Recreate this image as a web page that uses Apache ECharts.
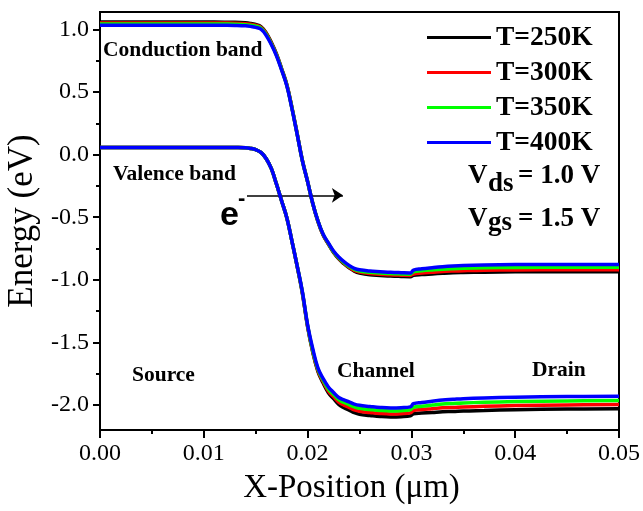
<!DOCTYPE html>
<html>
<head>
<meta charset="utf-8">
<script src="https://cdn.jsdelivr.net/npm/echarts@6/dist/echarts.min.js"></script>
<style>
  html, body { margin: 0; padding: 0; background: #fff; }
  #chart { width: 643px; height: 511px; }
</style>
</head>
<body>
<div id="chart"></div>
<script>
// Position along the device (µm)
const xPos = [0, 0.005, 0.010, 0.012, 0.013, 0.014, 0.0145, 0.015, 0.0155, 0.016, 0.0165,
  0.017, 0.0175, 0.018, 0.0185, 0.019, 0.0195, 0.020, 0.0205, 0.021, 0.0215,
  0.022, 0.0225, 0.023, 0.0235, 0.024, 0.0245, 0.025, 0.026, 0.027, 0.028,
  0.029, 0.0299, 0.0302, 0.031, 0.032, 0.033, 0.034, 0.035, 0.037, 0.040,
  0.045, 0.050];

const temps = ['T=250K', 'T=300K', 'T=350K', 'T=400K'];
const colors = ['#000000', '#ff0000', '#00ff00', '#0000ff'];

// Conduction band edge (eV)
const cb250 = [1.060, 1.060, 1.060, 1.059, 1.058, 1.054, 1.049, 1.040, 1.024, 0.975, 0.898,
  0.805, 0.687, 0.560, 0.373, 0.165, -0.047, -0.215, -0.392, -0.535, -0.643,
  -0.715, -0.782, -0.833, -0.872, -0.905, -0.930, -0.945, -0.960, -0.965, -0.970,
  -0.973, -0.975, -0.964, -0.958, -0.953, -0.948, -0.944, -0.942, -0.939, -0.936,
  -0.935, -0.935];
const cb300 = [1.053, 1.053, 1.053, 1.052, 1.051, 1.047, 1.042, 1.034, 1.018, 0.969, 0.893,
  0.800, 0.683, 0.557, 0.371, 0.164, -0.048, -0.215, -0.391, -0.533, -0.641,
  -0.712, -0.778, -0.828, -0.867, -0.899, -0.924, -0.938, -0.950, -0.955, -0.960,
  -0.963, -0.965, -0.953, -0.946, -0.940, -0.934, -0.930, -0.927, -0.923, -0.921,
  -0.920, -0.920];
const cb350 = [1.045, 1.045, 1.045, 1.044, 1.043, 1.039, 1.034, 1.027, 1.012, 0.963, 0.887,
  0.796, 0.680, 0.554, 0.368, 0.162, -0.049, -0.215, -0.390, -0.531, -0.638,
  -0.709, -0.775, -0.824, -0.862, -0.893, -0.917, -0.929, -0.940, -0.945, -0.950,
  -0.953, -0.955, -0.936, -0.928, -0.921, -0.915, -0.911, -0.908, -0.904, -0.901,
  -0.900, -0.900];
const cb400 = [1.035, 1.035, 1.035, 1.034, 1.033, 1.030, 1.025, 1.017, 1.003, 0.955, 0.880,
  0.790, 0.675, 0.550, 0.365, 0.160, -0.050, -0.215, -0.390, -0.530, -0.636,
  -0.705, -0.770, -0.818, -0.855, -0.885, -0.908, -0.920, -0.930, -0.935, -0.940,
  -0.943, -0.945, -0.922, -0.912, -0.903, -0.895, -0.889, -0.885, -0.881, -0.878,
  -0.877, -0.877];

// Valence band edge (eV)
const vb250 = [0.058, 0.058, 0.058, 0.058, 0.057, 0.055, 0.050, 0.040, 0.018, -0.030, -0.110,
  -0.235, -0.370, -0.505, -0.695, -0.895, -1.110, -1.375, -1.580, -1.734, -1.825,
  -1.902, -1.950, -1.996, -2.022, -2.041, -2.062, -2.075, -2.084, -2.092, -2.096,
  -2.094, -2.087, -2.070, -2.065, -2.060, -2.054, -2.052, -2.048, -2.044, -2.038,
  -2.033, -2.030];
const vb300 = [0.058, 0.058, 0.058, 0.058, 0.057, 0.055, 0.050, 0.040, 0.018, -0.030, -0.110,
  -0.235, -0.370, -0.505, -0.695, -0.893, -1.103, -1.370, -1.573, -1.725, -1.813,
  -1.888, -1.933, -1.977, -2.001, -2.019, -2.040, -2.051, -2.060, -2.068, -2.072,
  -2.070, -2.063, -2.044, -2.037, -2.030, -2.023, -2.020, -2.016, -2.011, -2.005,
  -2.000, -1.997];
const vb350 = [0.058, 0.058, 0.058, 0.058, 0.057, 0.055, 0.050, 0.040, 0.018, -0.030, -0.110,
  -0.235, -0.370, -0.505, -0.695, -0.891, -1.099, -1.365, -1.567, -1.715, -1.802,
  -1.874, -1.916, -1.958, -1.980, -1.997, -2.016, -2.027, -2.036, -2.044, -2.048,
  -2.046, -2.039, -2.018, -2.010, -2.001, -1.992, -1.988, -1.984, -1.979, -1.973,
  -1.968, -1.965];
const vb400 = [0.058, 0.058, 0.058, 0.058, 0.057, 0.055, 0.050, 0.040, 0.018, -0.030, -0.110,
  -0.235, -0.370, -0.505, -0.695, -0.890, -1.096, -1.360, -1.551, -1.706, -1.790,
  -1.856, -1.900, -1.940, -1.960, -1.975, -1.993, -2.003, -2.012, -2.020, -2.024,
  -2.022, -2.015, -1.990, -1.980, -1.970, -1.960, -1.955, -1.950, -1.944, -1.938,
  -1.933, -1.930];

// Axis ticks
const yMajorTicks = [-2.0, -1.5, -1.0, -0.5, 0.0, 0.5, 1.0];
const yMinorTicks = [-1.75, -1.25, -0.75, -0.25, 0.25, 0.75];

// Electron-flow arrow (x in µm, energy in eV)
const arrowFrom = [0.01416, -0.325];
const arrowTo = [0.0234, -0.325];

const cbSets = [cb250, cb300, cb350, cb400];
const vbSets = [vb250, vb300, vb350, vb400];

const SERIF = '"Liberation Serif", "Times New Roman", serif';
const SANS = '"Liberation Sans", Arial, sans-serif';

const pair = arr => xPos.map((x, i) => [x, arr[i]]);

const series = [];
temps.forEach((name, k) => {
  [cbSets[k], vbSets[k]].forEach(set => {
    series.push({
      name: name,
      type: 'line',
      data: pair(set),
      showSymbol: false,
      symbol: 'none',
      smooth: 0.4,
      lineStyle: { color: colors[k], width: 3.5 },
      itemStyle: { color: colors[k] },
      emphasis: { disabled: true },
      z: 2 + k
    });
  });
});

// Arrow drawn in data coordinates on the top-most series
series[series.length - 1].markLine = {
  silent: true,
  symbol: ['none', 'arrow'],
  symbolSize: 11,
  label: { show: false },
  lineStyle: { color: '#000', width: 1.5, type: 'solid' },
  emphasis: { disabled: true },
  data: [[{ coord: arrowFrom }, { coord: arrowTo }]]
};

const chart = echarts.init(document.getElementById('chart'), null, { renderer: 'canvas' });

const txt = (text, x, y, font, align) => ({
  type: 'text', x: x, y: y, z: 100,
  style: { text: text, font: font, fill: '#000', align: align || 'left', verticalAlign: 'middle' }
});

const LBL = 'bold 21.5px ' + SERIF;
const VFONT = 'bold 27px ' + SERIF;

chart.setOption({
  animation: false,
  backgroundColor: '#fff',
  grid: {
    left: 100, right: 24, top: 12, bottom: 81,
    outerBoundsMode: 'none',
    containLabel: false,
    show: true, borderColor: '#000', borderWidth: 2, backgroundColor: 'transparent'
  },
  legend: {
    data: temps,
    orient: 'vertical',
    left: 427,
    top: 20,
    padding: 0,
    itemGap: 0,
    itemWidth: 64,
    itemHeight: 12,
    icon: 'path://M0,5 L64,5 L64,8 L0,8 Z',
    textStyle: { fontFamily: SERIF, fontWeight: 'bold', fontSize: 27.5, color: '#000', lineHeight: 35 },
    selectedMode: false
  },
  xAxis: {
    type: 'value',
    min: 0, max: 0.05, interval: 0.01,
    name: 'X-Position (\u03bcm)',
    nameLocation: 'middle',
    nameGap: 42,
    nameTextStyle: { fontFamily: SERIF, fontSize: 33, color: '#000', padding: [0, 16, 0, 0] },
    axisLine: { show: true, onZero: false, lineStyle: { color: '#000', width: 2 } },
    axisTick: { show: true, inside: false, length: 8, lineStyle: { color: '#000', width: 2 } },
    minorTick: { show: true, splitNumber: 2, length: 4, lineStyle: { color: '#000', width: 2 } },
    axisLabel: { fontFamily: SERIF, fontSize: 24, color: '#000', margin: 12, formatter: v => v.toFixed(2) },
    splitLine: { show: false }
  },
  yAxis: [{
    type: 'value',
    min: -2.2, max: 1.14,
    name: 'Energy (eV)',
    nameLocation: 'middle',
    nameGap: 56,
    nameTextStyle: { fontFamily: SERIF, fontSize: 35, color: '#000' },
    axisLine: { show: true, onZero: false, lineStyle: { color: '#000', width: 2 } },
    axisTick: { show: true, inside: false, length: 7, customValues: yMajorTicks, lineStyle: { color: '#000', width: 2 } },
    axisLabel: { fontFamily: SERIF, fontSize: 24, color: '#000', margin: 11, customValues: yMajorTicks, formatter: v => v.toFixed(1) },
    splitLine: { show: false }
  }, {
    type: 'value',
    position: 'left',
    min: -2.2, max: 1.14,
    axisLine: { show: false },
    axisTick: { show: true, inside: false, length: 4, customValues: yMinorTicks, lineStyle: { color: '#000', width: 2 } },
    axisLabel: { show: false },
    splitLine: { show: false }
  }],
  series: series,
  graphic: [
    txt('Conduction band', 103, 50, LBL),
    txt('Valence band', 113, 174, LBL),
    txt('Source', 132, 375, LBL),
    txt('Channel', 337, 371, LBL),
    txt('Drain', 532, 370, LBL),
    txt('e', 220, 216, 'bold 34px ' + SANS),
    txt('-', 238, 199, 'bold 22px ' + SANS),
    txt('V', 468, 176.5, VFONT),
    txt('ds', 488, 184, VFONT),
    txt('= 1.0 V', 518, 176.5, VFONT),
    txt('V', 468, 219.5, VFONT),
    txt('gs', 488, 223, VFONT),
    txt('= 1.5 V', 518, 219.5, VFONT)
  ]
});
</script>
</body>
</html>
